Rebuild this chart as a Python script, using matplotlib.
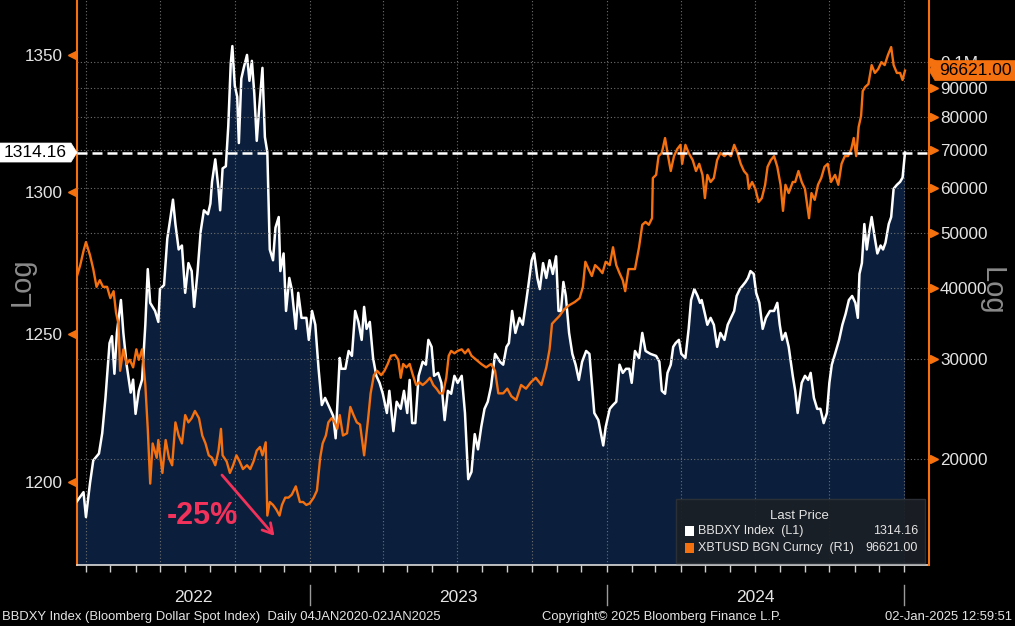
import numpy as np
import pandas as pd
import matplotlib
matplotlib.use("Agg")
import matplotlib.pyplot as plt
import matplotlib.dates as mdates
import matplotlib.transforms as mtrans
from matplotlib.patches import Polygon, Rectangle
from matplotlib.ticker import FixedLocator, FixedFormatter, NullLocator, NullFormatter

plt.rcParams['font.family'] = ['Liberation Sans', 'DejaVu Sans']

# ---- data ----
start = pd.Timestamp("2022-03-21")   # left edge of the chart

# BBDXY Index, days after start
dxy_days = [0, 8, 11, 16, 20, 27, 31, 35, 40, 43, 46, 49, 54, 57, 61, 66, 69, 72, 76, 80,
            84, 87, 90, 96, 100, 102, 107, 111, 115, 118, 121, 125, 129, 133, 137, 141, 144, 148, 152, 156,
            161, 164, 166, 170, 174, 176,
            179, 183, 186, 189, 191, 194, 197, 199, 202, 205, 209, 212, 215, 218, 221, 224, 228, 231, 234, 237,
            241, 244, 248, 250, 254, 257, 261, 264, 269, 272, 276, 282, 285, 289, 293, 297, 301, 305, 310, 315,
            318, 323, 325, 330, 334, 338, 342, 346, 350, 353,
            356, 360, 364, 368, 372, 376, 381, 384, 389, 393, 398, 402, 406, 409, 412, 416, 420, 425, 429, 432,
            436, 439, 444, 448, 452, 456, 460, 464, 468, 473, 477, 481, 485, 489, 493, 497, 501, 505, 509, 514,
            520, 524, 528,
            531, 535, 539, 544, 548, 552, 555, 559, 562, 566, 569, 573, 577, 581, 585, 589, 592, 595, 598, 601,
            605, 609, 613, 617, 621, 626, 630, 633, 636, 641, 647, 650, 655, 659, 663, 667, 671, 675, 679, 682,
            686, 691, 695, 699, 705,
            712, 716, 719, 723, 726, 730, 733, 736, 740, 743, 748, 752, 755, 759, 763, 766, 768, 772, 775, 779,
            783, 787, 791, 796, 800, 804, 808, 811, 815, 819, 822, 825, 828, 832, 835, 839, 843, 847, 852, 857,
            861, 864, 867, 871, 875, 880,
            883, 886, 891, 895, 899, 902, 906, 910, 914, 918, 922, 925, 928, 932, 937, 941, 945, 949, 953, 957,
            960, 962, 965, 968, 971, 974, 977, 981, 984, 988, 991, 994, 998, 1001, 1004, 1008, 1012, 1015, 1018]
dxy_vals = [1193.7, 1196.7, 1188.5, 1199.7, 1207.2, 1209.5, 1216.3, 1228.2, 1246.9, 1249.3,
            1236.4, 1250.4, 1261.8, 1250.4, 1239.5, 1230.0, 1234.4, 1222.8, 1230.6, 1234.4,
            1253.2, 1272.6, 1260.8, 1258.0, 1254.2, 1265.6, 1267.0, 1283.3, 1291.0, 1297.2,
            1288.5, 1279.5, 1280.9, 1264.3, 1274.7, 1271.9, 1259.4, 1270.9, 1285.8, 1293.4,
            1292.0, 1295.8, 1303.6, 1311.7, 1301.0, 1293.4,
            1308.4, 1309.2, 1323.9, 1346.7, 1353.3, 1338.6, 1334.5, 1317.6, 1341.2, 1345.2,
            1350.0, 1340.4, 1347.8, 1335.6, 1318.4, 1330.5, 1345.2, 1319.8, 1314.3, 1279.5,
            1275.7, 1287.2, 1291.0, 1271.9, 1278.1, 1258.0, 1269.5, 1265.6, 1251.8, 1264.3,
            1255.6, 1255.6, 1248.0, 1258.0, 1253.2, 1238.1, 1225.8, 1228.2, 1225.2, 1222.1,
            1214.6, 1241.8, 1238.1, 1238.1, 1244.2, 1242.5, 1258.0, 1254.2, 1248.0, 1259.4,
            1251.8, 1254.2, 1241.8, 1235.7, 1233.3, 1229.6, 1223.1, 1230.6, 1217.0, 1226.9,
            1224.5, 1230.6, 1223.1, 1234.3, 1219.7, 1219.7, 1235.7, 1240.5, 1239.5, 1248.0,
            1245.6, 1235.7, 1236.7, 1233.3, 1220.7, 1230.6, 1229.6, 1235.7, 1233.3, 1235.7,
            1223.1, 1201.0, 1203.4, 1216.0, 1210.9, 1218.4, 1224.5, 1226.9, 1232.0, 1243.2,
            1240.5, 1239.5, 1245.6,
            1246.9, 1258.0, 1250.4, 1255.6, 1253.2, 1260.8, 1267.0, 1275.7, 1278.1, 1269.5,
            1265.6, 1274.7, 1269.5, 1275.7, 1270.9, 1277.1, 1258.0, 1258.0, 1268.1, 1263.2,
            1250.4, 1243.2, 1239.5, 1234.3, 1240.5, 1244.2, 1243.2, 1233.3, 1223.1, 1220.7,
            1212.2, 1218.4, 1224.5, 1225.8, 1226.9, 1239.5, 1236.7, 1238.1, 1238.1, 1233.3,
            1244.2, 1241.8, 1250.4, 1244.2, 1243.2,
            1242.5, 1240.5, 1230.6, 1229.6, 1236.7, 1239.5, 1245.6, 1246.9, 1248.0, 1243.2,
            1241.8, 1251.8, 1261.8, 1265.6, 1263.2, 1260.8, 1261.8, 1257.0, 1253.2, 1255.6,
            1253.2, 1245.6, 1250.4, 1248.0, 1253.2, 1255.6, 1258.0, 1263.2, 1265.6, 1267.0,
            1268.1, 1269.5, 1271.9, 1270.9, 1264.3, 1260.8, 1251.8, 1255.6, 1258.0, 1258.0,
            1260.8, 1253.2, 1248.0, 1250.4, 1245.6, 1235.7,
            1230.6, 1223.1, 1233.3, 1235.7, 1234.3, 1236.7, 1228.2, 1224.5, 1224.5, 1219.7,
            1223.1, 1233.3, 1239.5, 1243.2, 1248.0, 1253.2, 1257.0, 1261.8, 1263.2, 1260.8,
            1255.6, 1270.9, 1274.7, 1288.5, 1279.5, 1285.8, 1291.0, 1283.3, 1278.1, 1280.9,
            1279.5, 1281.9, 1288.5, 1291.0, 1301.1, 1302.5, 1303.6, 1305.1, 1314.16]

# XBTUSD BGN Curncy, days after start
btc_days = [0, 4, 8, 11, 16, 20, 24, 28, 32, 37, 41, 45, 48, 51, 53, 57, 61, 65, 69, 73,
            76, 80, 84, 87, 90, 93, 98, 100, 105, 109, 113, 117, 121, 125, 129, 133, 137, 141, 145, 150,
            154, 158, 162, 166, 170, 174, 177,
            179, 184, 188, 192, 196, 200, 204, 209, 213, 217, 221, 225, 228, 232, 234, 237, 241, 245, 249, 252,
            256, 260, 264, 269, 274, 278, 282, 286, 291, 295, 299, 302, 306, 309, 313, 317, 320, 323, 327, 332,
            336, 340, 344, 348, 353,
            358, 361, 365, 369, 374, 378, 382, 386, 391, 395, 398, 401, 405, 409, 413, 417, 421, 425, 429, 434,
            438, 442, 446, 450, 454, 457, 460, 464, 468, 473, 477, 481, 485, 491, 497, 503, 509, 514, 518, 524,
            529,
            534, 540, 546, 552, 558, 564, 571, 577, 581, 584, 588, 593, 599, 605, 612, 618, 622, 625, 629, 633,
            637, 642, 646, 650, 655, 659, 663, 667, 671, 674, 678, 682, 686, 691, 695, 699, 703,
            707, 708, 712, 715, 719, 723, 726, 730, 734, 738, 742, 744, 748, 752, 757, 761, 765, 769, 772, 775,
            779, 783, 787, 791, 796, 800, 804, 808, 812, 816, 820, 824, 826, 830, 834, 838, 842, 846, 849, 853,
            857, 861, 865, 868, 871, 875, 880,
            883, 887, 891, 895, 900, 903, 907, 911, 915, 919, 923, 927, 932, 936, 940, 944, 948, 952, 955, 958,
            961, 964, 966, 969, 973, 977, 981, 985, 989, 993, 997, 1001, 1004, 1008, 1012, 1015, 1018]
btc_vals = [42000, 43900, 46500, 48200, 45700, 43200, 40200, 41300, 40200, 40200,
            38400, 39500, 36200, 34600, 28600, 31200, 29400, 29900, 29000, 31200,
            29900, 31200, 27000, 22600, 18100, 21300, 20100, 21600, 18900, 21600,
            20100, 19500, 23200, 22000, 21300, 23900, 23200, 23600, 24300, 23600,
            22000, 21300, 20300, 20100, 19500, 20700, 22600,
            20300, 19800, 18900, 19500, 20300, 19800, 19200, 19500, 19200, 19800,
            20700, 21000, 20300, 21400, 15900, 16800, 16600, 16300, 15900, 16600,
            17100, 17100, 17300, 17900, 16800, 16800, 16600, 16700, 17100, 17600,
            20100, 21300, 22000, 23200, 23600, 23200, 22600, 23900, 22000, 22200,
            24700, 23900, 23200, 23000, 20300,
            23600, 26100, 28100, 28600, 28100, 28600, 29400, 30400, 30500, 29900,
            27800, 29400, 29000, 29400, 28100, 27000, 27300, 27000, 27300, 27800,
            27000, 26600, 26100, 26100, 27800, 30400, 31000, 30700, 31000, 31200,
            30700, 31200, 30400, 29900, 29400, 29000, 29400, 28600, 26100, 26100,
            26600,
            25800, 25400, 27000, 26600, 27300, 27800, 27000, 29000, 31200, 34600,
            35100, 35700, 36700, 37300, 37800, 38400, 40200, 44500, 43200, 42000,
            43900, 43200, 42500, 44500, 43900, 47200, 43900, 42500, 41300, 39500,
            43200, 43200, 43200, 47200, 51700, 52300, 51700,
            53100, 62500, 63300, 68300, 69200, 73500, 69200, 64300, 68300, 70300,
            71500, 66200, 71500, 69200, 67200, 64300, 66200, 63300, 57600, 63300,
            61500, 62500, 67200, 69200, 68300, 69200, 68300, 71500, 69200, 66200,
            64300, 63300, 59800, 61500, 59800, 56700, 57600, 60800, 65400, 67200,
            68300, 65400, 60800, 54700, 60800, 58800, 61500,
            61500, 64300, 61500, 59800, 53100, 58800, 57200, 60800, 62500, 65400,
            66200, 61500, 63300, 60800, 66200, 68300, 68300, 70300, 73500, 68300,
            76900, 80400, 88900, 90400, 91500, 98800, 95700, 97200, 100000, 98800,
            102900, 106300, 98800, 95700, 95700, 93000, 96621]

dxy_ticks = [1200, 1250, 1300, 1350]
dxy_tick_labels = ["1200", "1250", "1300", "1350"]
btc_ticks = [20000, 30000, 40000, 50000, 60000, 70000, 80000, 90000, 100000]
btc_tick_labels = ["20000", "30000", "40000", "50000", "60000", "70000", "80000", "90000", "0.1M"]
years = [2022, 2023, 2024]

last_dxy = dxy_vals[-1]
last_btc = btc_vals[-1]

# ---- style ----
orange = '#f5700f'
navy = '#0b1f3c'
grid_c = '#6e6e6e'
txt_c = '#e4e4e4'
red = '#f2325a'

W, H = 1015, 626
fig = plt.figure(figsize=(W / 100, H / 100), dpi=100, facecolor='black')
ax = fig.add_axes([77 / W, 61 / H, 852 / W, 565 / H])
ax.set_facecolor('black')
ax2 = ax.twinx()

dxy_dates = start + pd.to_timedelta(dxy_days, unit='D')
btc_dates = start + pd.to_timedelta(btc_days, unit='D')

ax.fill_between(dxy_dates, dxy_vals, 1000, color=navy, lw=0, zorder=1)
ax.plot(dxy_dates, dxy_vals, color='white', lw=1.8, zorder=3)
ax2.plot(btc_dates, btc_vals, color=orange, lw=1.7, zorder=3)

ax.set_yscale('log')
ax2.set_yscale('log')
ax.set_ylim(1172.9, 1370.6)
ax2.set_ylim(13012, 128640)
x0 = start
x1 = start + pd.Timedelta(days=1047.5)
ax.set_xlim(x0, x1)

# y ticks
ax.yaxis.set_major_locator(FixedLocator(dxy_ticks))
ax.yaxis.set_major_formatter(FixedFormatter(dxy_tick_labels))
ax.yaxis.set_minor_locator(NullLocator())
ax.tick_params(axis='y', which='both', length=0, pad=10, labelsize=12.3, labelcolor=txt_c)
ax2.yaxis.set_major_locator(FixedLocator(btc_ticks))
ax2.yaxis.set_major_formatter(FixedFormatter(btc_tick_labels))
ax2.yaxis.set_minor_locator(NullLocator())
ax2.tick_params(axis='y', which='both', length=0, pad=8, labelsize=12.3, labelcolor=txt_c)

# orange tick triangles
lt = mtrans.blended_transform_factory(ax.transAxes, ax.transData) + \
    mtrans.ScaledTranslation(-3.5 / 72, 0, fig.dpi_scale_trans)
ax.plot([0] * len(dxy_ticks), dxy_ticks, ls='none', marker='<', ms=6, color=orange,
        mec=orange, transform=lt, clip_on=False, zorder=6)
rt = mtrans.blended_transform_factory(ax2.transAxes, ax2.transData) + \
    mtrans.ScaledTranslation(3.5 / 72, 0, fig.dpi_scale_trans)
ax2.plot([1] * len(btc_ticks), btc_ticks, ls='none', marker='>', ms=6, color=orange,
         mec=orange, transform=rt, clip_on=False, zorder=6)

# x ticks / grid
ax.xaxis.set_major_locator(mdates.MonthLocator(bymonth=[1, 4, 7, 10]))
ax.xaxis.set_minor_locator(mdates.MonthLocator())
ax.xaxis.set_major_formatter(NullFormatter())
ax.xaxis.set_minor_formatter(NullFormatter())
ax.tick_params(axis='x', which='both', length=5, width=1, color='#d0d0d0', direction='out')
ax.grid(axis='x', which='major', color=grid_c, ls=(0, (1, 2)), lw=0.8)
ax2.grid(axis='y', which='major', color=grid_c, ls=(0, (1, 2)), lw=0.8)

for s in ['top', 'right']:
    ax.spines[s].set_visible(False)
ax.spines['left'].set_color(orange)
ax.spines['left'].set_linewidth(1.5)
ax.spines['bottom'].set_color('#dcdcdc')
ax.spines['bottom'].set_linewidth(1.2)
for s in ['top', 'left', 'bottom']:
    ax2.spines[s].set_visible(False)
ax2.spines['right'].set_color(orange)
ax2.spines['right'].set_linewidth(1.5)

# year labels and separators
bt = mtrans.blended_transform_factory(ax.transData, ax.transAxes)
for yr in years:
    a = max(pd.Timestamp(f"{yr}-01-01"), x0)
    b = min(pd.Timestamp(f"{yr + 1}-01-01"), x1)
    ax.text(a + (b - a) / 2, -0.057, str(yr), transform=bt, ha='center', va='center',
            fontsize=12.5, color=txt_c)
    sep = pd.Timestamp(f"{yr + 1}-01-01")
    ax.plot([sep, sep], [-0.035, -0.071], transform=bt, color='#9a9a9a', lw=1, clip_on=False)

# last-value dashed line
ax2.plot([0, 1], [last_dxy, last_dxy],
         transform=mtrans.blended_transform_factory(ax2.transAxes, ax.transData),
         color='white', ls=(0, (4, 2)), lw=1.8, zorder=5)

# value tags
xl, yl = mtrans.blended_transform_factory(ax.transAxes, ax.transData).transform((0, last_dxy))
tag_l = [(0, yl + 9.5), (xl - 6, yl + 9.5), (xl, yl), (xl - 6, yl - 9.5), (0, yl - 9.5)]
fig.add_artist(Polygon([(px / W, py / H) for px, py in tag_l], closed=True,
                       transform=fig.transFigure, fc='white', ec='white', lw=0.5))
fig.text((xl - 6) / 2 / W, yl / H, f"{last_dxy:.2f}", ha='center', va='center',
         fontsize=12.5, color='black')

xr, yr_ = mtrans.blended_transform_factory(ax2.transAxes, ax2.transData).transform((1, last_btc))
tag_r = [(xr, yr_), (xr + 6, yr_ + 10), (W, yr_ + 10), (W, yr_ - 10), (xr + 6, yr_ - 10)]
fig.add_artist(Polygon([(px / W, py / H) for px, py in tag_r], closed=True,
                       transform=fig.transFigure, fc=orange, ec=orange, lw=0.5))
fig.text((xr + 6 + W) / 2 / W, yr_ / H, f"{last_btc:.2f}", ha='center', va='center',
         fontsize=12.5, color='black')

# legend box
ax2.add_patch(Rectangle((0.703, 0.004), 0.292, 0.113, transform=ax2.transAxes,
                        fc='#1b1f25', ec='#2e3238', lw=1, alpha=0.93, zorder=7))
ax2.text(0.848, 0.087, "Last Price", transform=ax2.transAxes, ha='center', va='center',
         fontsize=9.5, color=txt_c, zorder=8)
rows = [("BBDXY Index  (L1)", f"{last_dxy:.2f}", 'white', 0.060),
        ("XBTUSD BGN Curncy  (R1)", f"{last_btc:.2f}", orange, 0.030)]
for label, val, col, yy in rows:
    ax2.add_patch(Rectangle((0.714, yy - 0.009), 0.0106, 0.018, transform=ax2.transAxes,
                            fc=col, ec='none', zorder=8))
    ax2.text(0.729, yy, label, transform=ax2.transAxes, ha='left', va='center',
             fontsize=9, color=txt_c, zorder=8)
    ax2.text(0.987, yy, val, transform=ax2.transAxes, ha='right', va='center',
             fontsize=9, color=txt_c, zorder=8)

# -25% annotation
ax2.annotate('', xy=(pd.Timestamp("2022-11-21"), 14520), xytext=(pd.Timestamp("2022-09-13"), 18900),
             arrowprops=dict(arrowstyle='->,head_length=0.7,head_width=0.4', color=red, lw=2),
             zorder=6)
ax2.text(pd.Timestamp("2022-08-22"), 15870, "-25%", ha='center', va='center', fontsize=22,
         fontweight='bold', color=red, zorder=6)

# axis "Log" labels
fig.text(22 / W, 1 - 282 / H, "Log", rotation=90, ha='center', va='center', fontsize=21, color='#8a8a8a')
fig.text(992 / W, 1 - 291 / H, "Log", rotation=270, ha='center', va='center', fontsize=21, color='#8a8a8a')

# footer
fy = 1 - 617 / H
fig.text(2 / W, fy, "BBDXY Index (Bloomberg Dollar Spot Index)  Daily 04JAN2020-02JAN2025",
         ha='left', va='center', fontsize=9.4, color=txt_c)
fig.text(662 / W, fy, "Copyright\u00a9 2025 Bloomberg Finance L.P.", ha='center', va='center',
         fontsize=9.4, color=txt_c)
fig.text(1012 / W, fy, "02-Jan-2025 12:59:51", ha='right', va='center', fontsize=9.4, color=txt_c)

fig.savefig("out.png", dpi=100, facecolor='black')
